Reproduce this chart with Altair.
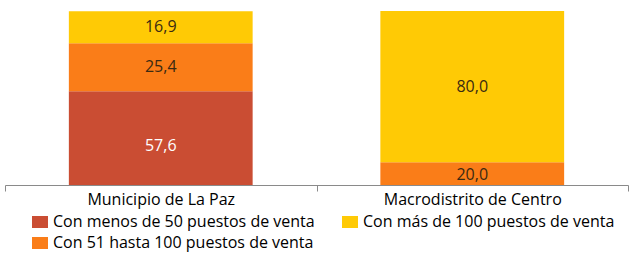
import altair as alt
import pandas as pd

categories = ["Municipio de La Paz", "Macrodistrito de Centro"]
series = [
    "Con menos de 50 puestos de venta",
    "Con 51 hasta 100 puestos de venta",
    "Con más de 100 puestos de venta",
]
vals_menos50 = [57.6, 0.0]
vals_51a100 = [25.4, 20.0]
vals_mas100 = [16.9, 80.0]
colors = ["#CA4D33", "#FA7D18", "#FFCA05"]
label_colors = ["#FFFFFF", "#3A2A12", "#3A2A12"]
y_min, y_max = 8, 100
FONT = "Open Sans"
FS = 16

rows = []
for ci, cat in enumerate(categories):
    start = 0.0
    for si, (s, vals) in enumerate(zip(series, [vals_menos50, vals_51a100, vals_mas100])):
        v = vals[ci]
        if v <= 0:
            continue
        end = start + v
        mid = max((start + end) / 2, y_min + 5.5)
        rows.append({
            "cat": cat, "serie": s, "value": v, "start": start, "end": end,
            "mid": mid, "label": f"{v:.1f}".replace(".", ","),
            "tcolor": label_colors[si], "order": si,
        })
        start = end
df = pd.DataFrame(rows)

# legend order column-major like the reference: red, yellow / orange
legend_domain = [series[0], series[2], series[1]]
legend_range = [colors[0], colors[2], colors[1]]

x = alt.X("cat:N", sort=categories, title=None,
          scale=alt.Scale(paddingInner=0, paddingOuter=0),
          axis=alt.Axis(labelAngle=0, labelFont=FONT, labelFontSize=FS,
                        labelColor="#000000", labelPadding=0,
                        domainColor="#8A8A8A", tickColor="#8A8A8A",
                        tickSize=6, tickBand="extent", ticks=True,
                        labelLimit=300))

bars = alt.Chart(df).mark_bar(clip=True, width=alt.RelativeBandSize(0.59)).encode(
    x=x,
    y=alt.Y("start:Q", scale=alt.Scale(domain=[y_min, y_max], nice=False, zero=False), axis=None),
    y2="end:Q",
    color=alt.Color("serie:N", scale=alt.Scale(domain=legend_domain, range=legend_range),
                    legend=alt.Legend(title=None, orient="none", legendX=27, legendY=203,
                                      columns=2, direction="horizontal",
                                      symbolType="M-1,-0.75H1V0.75H-1Z", symbolSize=256,
                                      symbolStrokeWidth=0, symbolOpacity=1,
                                      labelFont=FONT, labelFontSize=FS, labelColor="#000000",
                                      labelOffset=5, columnPadding=27, rowPadding=5,
                                      labelLimit=400)),
)

texts = alt.Chart(df).mark_text(font=FONT, fontSize=FS, baseline="middle").encode(
    x=alt.X("cat:N", sort=categories),
    y=alt.Y("mid:Q", scale=alt.Scale(domain=[y_min, y_max], nice=False, zero=False)),
    text="label:N",
    color=alt.Color("tcolor:N", scale=None),
)

chart = alt.layer(bars, texts).properties(
    width=623, height=174,
    padding={"left": 5, "top": 11, "right": 5, "bottom": 70},
    autosize=alt.AutoSizeParams(type="none"),
).configure(background="#FFFFFF", view=alt.ViewConfig(stroke=None))

chart.save("out.html", embed_options={"renderer": "svg", "actions": False})
